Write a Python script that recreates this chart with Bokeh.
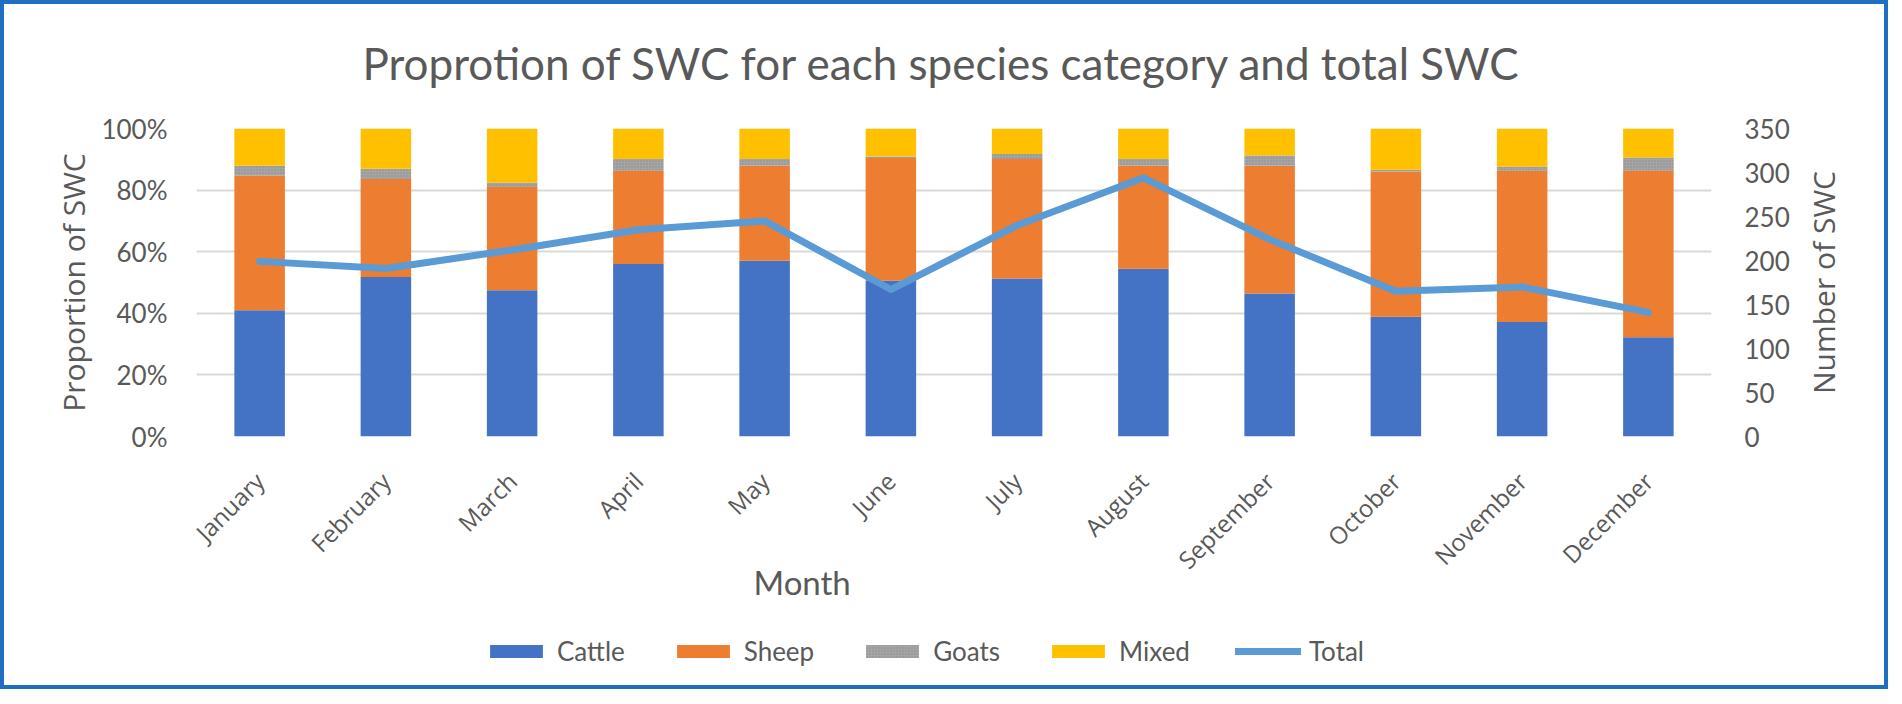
from math import pi
from bokeh.plotting import figure
from bokeh.layouts import column, row
from bokeh.models import (Range1d, LinearAxis, FixedTicker, NumeralTickFormatter,
                          Legend, LegendItem, Title, Label, ColumnDataSource)
from bokeh.embed import file_html
from bokeh.resources import INLINE

months = ["January", "February", "March", "April", "May", "June", "July",
          "August", "September", "October", "November", "December"]
cattle = [41.0, 51.8, 47.5, 56.0, 57.1, 50.6, 51.3, 54.5, 46.4, 38.9, 37.2, 32.2]
sheep = [43.7, 31.8, 33.5, 30.3, 30.8, 39.8, 38.8, 33.4, 41.5, 47.1, 49.1, 54.1]
goats = [3.2, 3.3, 1.4, 3.8, 2.2, 0.5, 1.6, 2.2, 3.3, 0.6, 1.3, 4.3]
mixed = [12.1, 13.1, 17.6, 9.9, 9.9, 9.1, 8.3, 9.9, 8.8, 13.4, 12.4, 9.4]
total = [199, 191, 212, 235, 245, 167, 240, 294, 224, 165, 170, 141]

left_ticks = [0, 0.2, 0.4, 0.6, 0.8, 1.0]
right_ticks = [0, 50, 100, 150, 200, 250, 300, 350]

TXT = "#595959"
GRID = "#D9D9D9"
colors = ["#4472C4", "#ED7D31", "#A5A5A5", "#FFC000"]
names = ["Cattle", "Sheep", "Goats", "Mixed"]
LINE_COLOR = "#5B9BD5"

src = ColumnDataSource(dict(
    month=months,
    Cattle=[v / 100 for v in cattle],
    Sheep=[v / 100 for v in sheep],
    Goats=[v / 100 for v in goats],
    Mixed=[v / 100 for v in mixed],
    Total=total,
))

p = figure(x_range=months, y_range=Range1d(0, 1), width=1801, height=617,
           output_backend="svg", toolbar_location=None,
           min_border_left=196, min_border_right=90,
           min_border_top=128, min_border_bottom=181)
p.outline_line_color = None
p.background_fill_color = "white"
p.border_fill_alpha = 0
p.title.text = ""

# Title (a thin spacer title keeps it at the reference height)
spacer = Title(text=" ", text_font_size="1px", standoff=37)
p.add_layout(spacer, "above")
main_title = Title(text="Proprotion of SWC for each species category and total SWC",
                   align="left", offset=166, standoff=0,
                   text_font="Lato", text_font_size="44px",
                   text_font_style="normal", text_color=TXT)
p.add_layout(main_title, "above")

# Stacked bars
rs = p.vbar_stack(names, x="month", width=0.4, color=colors, source=src,
                  line_color=None)
rs[2].glyph.hatch_pattern = "dot"
rs[2].glyph.hatch_color = "#8C8C8C"
rs[2].glyph.hatch_scale = 3
rs[2].glyph.hatch_weight = 1

# Total on secondary axis
p.extra_y_ranges = {"total": Range1d(0, 350)}
p.line(x="month", y="Total", source=src, y_range_name="total",
       line_color=LINE_COLOR, line_width=7, line_join="round", line_cap="round")

# Left axis
ya = p.yaxis[0]
ya.ticker = FixedTicker(ticks=left_ticks)
ya.formatter = NumeralTickFormatter(format="0%")
ya.axis_line_color = None
ya.major_tick_line_color = None
ya.minor_tick_line_color = None
ya.major_tick_out = 0
ya.major_tick_in = 0
ya.minor_tick_out = 0
ya.major_label_text_font = "Lato"
ya.major_label_text_font_size = "26px"
ya.major_label_text_color = TXT
ya.major_label_standoff = 29
ya.axis_label = "Proportion of SWC"
ya.axis_label_text_font = "Open Sans"
ya.axis_label_text_font_size = "30px"
ya.axis_label_text_font_style = "normal"
ya.axis_label_text_color = TXT
ya.axis_label_standoff = 4

# Right axis (its title is drawn in the strip to the right, reading upwards)
ra = LinearAxis(y_range_name="total", ticker=FixedTicker(ticks=right_ticks))
ra.axis_line_color = None
ra.major_tick_line_color = None
ra.minor_tick_line_color = None
ra.major_tick_out = 0
ra.major_tick_in = 0
ra.minor_tick_out = 0
ra.major_label_text_font = "Lato"
ra.major_label_text_font_size = "26px"
ra.major_label_text_color = TXT
ra.major_label_standoff = 33
p.add_layout(ra, "right")

# X axis
xa = p.xaxis[0]
xa.axis_line_color = None
xa.major_tick_line_color = None
xa.minor_tick_line_color = None
xa.major_tick_out = 0
xa.major_tick_in = 0
xa.minor_tick_out = 0
xa.major_label_orientation = pi / 4
xa.major_label_text_font = "Open Sans"
xa.major_label_text_font_size = "24px"
xa.major_label_text_color = TXT
xa.major_label_standoff = 40

p.xgrid.grid_line_color = None
p.ygrid.grid_line_color = GRID
p.ygrid.grid_line_width = 2
p.ygrid.ticker = FixedTicker(ticks=left_ticks)

# X-axis title, placed left of centre as in the reference
month_title = Title(text="Month", align="left", offset=557, vertical_align="top",
                    text_font="Lato", text_font_size="33px",
                    text_font_style="normal", text_color=TXT)
try:
    month_title.standoff = -58
except Exception:
    month_title.standoff = 0
p.add_layout(month_title, "below")

# Strip to the right holding the secondary axis title
rstrip = figure(width=87, height=617, x_range=Range1d(0, 87), y_range=Range1d(0, 1),
                output_backend="svg", toolbar_location=None, title=None,
                x_axis_location=None, y_axis_location=None,
                min_border_left=0, min_border_right=0,
                min_border_top=128, min_border_bottom=181)
rstrip.outline_line_color = None
rstrip.background_fill_alpha = 0
rstrip.border_fill_alpha = 0
rstrip.xgrid.visible = False
rstrip.ygrid.visible = False
rstrip.add_layout(Label(x=22, y=0.5, text="Number of SWC", angle=pi / 2,
                        text_font="Open Sans", text_font_size="30px",
                        text_color=TXT, text_align="center",
                        text_baseline="middle"))

# Legend strip below the chart
lg = figure(width=1888, height=72, x_range=Range1d(0, 1888), y_range=Range1d(0, 72),
            output_backend="svg", toolbar_location=None, title=None,
            x_axis_location=None, y_axis_location=None,
            min_border_left=196, min_border_right=177,
            min_border_top=0, min_border_bottom=0)
lg.outline_line_color = None
lg.background_fill_alpha = 0
lg.border_fill_alpha = 0
lg.xgrid.visible = False
lg.ygrid.visible = False
# points far outside the visible range, so the legend has glyphs to draw
hidden = ColumnDataSource(dict(x=[-1000, -990], top=[-1000, -1000],
                               y=[-1000, -1000]))
leg_r = []
for c in colors:
    leg_r.append(lg.vbar(x="x", top="top", width=1, color=c, line_color=None,
                         source=hidden))
leg_r[2].glyph.hatch_pattern = "dot"
leg_r[2].glyph.hatch_color = "#8C8C8C"
leg_r[2].glyph.hatch_scale = 3
leg_r[2].glyph.hatch_weight = 1
leg_r.append(lg.line(x="x", y="y", line_color=LINE_COLOR, line_width=7,
                     line_cap="round", source=hidden))
items = [LegendItem(label=n, renderers=[r])
         for n, r in zip(names + ["Total"], leg_r)]
legend = Legend(items=items, orientation="horizontal", location=(287, 22),
                glyph_width=66, glyph_height=16, label_standoff=8, spacing=45,
                padding=0, margin=0, border_line_color=None,
                background_fill_alpha=0,
                label_text_font="Lato", label_text_font_size="26px",
                label_text_color=TXT)
lg.add_layout(legend, "center")

root = column(row(p, rstrip, spacing=0), lg, spacing=0)
root.styles = {"outline": "4px solid #1E6FBF", "outline-offset": "-4px"}

open("out.html", "w").write(file_html(root, INLINE))
